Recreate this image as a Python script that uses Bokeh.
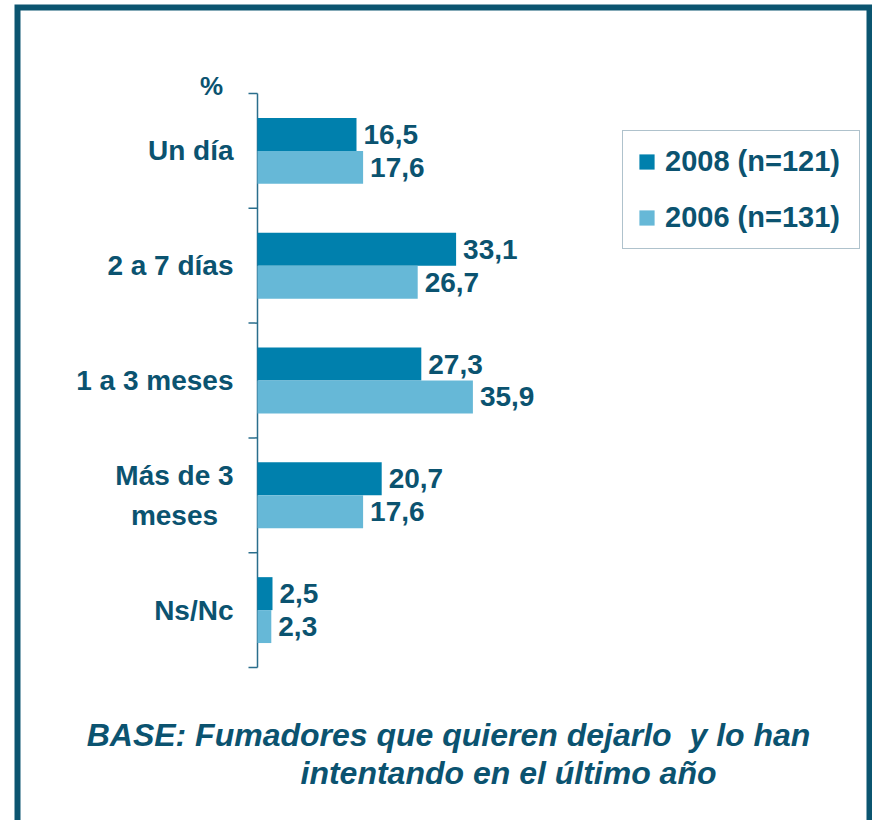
from bokeh.plotting import figure
from bokeh.models import (Range1d, Label, LabelSet, ColumnDataSource,
                          Legend, LegendItem, BoxAnnotation)
from bokeh.core.properties import value
from bokeh.embed import file_html
from bokeh.resources import INLINE

categories = ["Un día", "2 a 7 días", "1 a 3 meses", "Más de 3\nmeses", "Ns/Nc"]
values_2008 = [16.5, 33.1, 27.3, 20.7, 2.5]
values_2006 = [17.6, 26.7, 35.9, 17.6, 2.3]
series_names = ["2008 (n=121)", "2006 (n=131)"]
unit_label = "%"
caption_1 = "BASE: Fumadores que quieren dejarlo \u00a0y lo han"
caption_2 = "intentando en el último año"

TEXT = "#0B5370"
C2008 = "#0080AD"
C2006 = "#66B8D7"
AXIS = "#2A6E8C"
BORDER = "#0B5570"
FONT = "Liberation Sans"

W, H = 872, 820
# pixel layout of the chart area
PX_LEFT, PX_TOP, PX_BOTTOM = 257, 93, 667
SX = 6.0                       # pixels per percentage point
n = len(categories)
SY = (PX_BOTTOM - PX_TOP) / n  # pixels per category

def X(px):
    return (px - PX_LEFT) / SX

def Y(py):
    return (py - PX_TOP) / SY

centers = [i + 0.5 for i in range(n)]
bh = 0.287
y2008 = [c - bh / 2 for c in centers]
y2006 = [c + bh / 2 for c in centers]

def fmt(v):
    return f"{v:.1f}".replace(".", ",")

src08 = ColumnDataSource(dict(y=y2008, v=values_2008, t=[fmt(v) for v in values_2008]))
src06 = ColumnDataSource(dict(y=y2006, v=values_2006, t=[fmt(v) for v in values_2006]))

p = figure(width=W, height=H, output_backend="svg", toolbar_location=None,
           x_range=Range1d(X(0), X(W)), y_range=Range1d(Y(H), Y(0)),
           x_axis_location=None, y_axis_location=None,
           min_border=0)
p.outline_line_color = None
p.grid.visible = False
p.background_fill_color = "white"
p.border_fill_color = "white"

# category axis: line and boundary ticks
bounds = list(range(n + 1))
p.segment(x0=[0], y0=[bounds[0]], x1=[0], y1=[bounds[-1]],
          line_color=AXIS, line_width=1.5)
tick_len = 9 / SX
p.segment(x0=[-tick_len] * len(bounds), y0=bounds, x1=[0] * len(bounds), y1=bounds,
          line_color=AXIS, line_width=1.5)

r08 = p.hbar(y="y", left=0, right="v", height=bh, source=src08,
             fill_color=C2008, line_color=None)
r06 = p.hbar(y="y", left=0, right="v", height=bh, source=src06,
             fill_color=C2006, line_color=None)

for src in (src08, src06):
    p.add_layout(LabelSet(x="v", y="y", text="t", source=src, x_offset=7,
                          text_baseline="middle", text_align="left",
                          text_font=value(FONT), text_font_size=value("28px"),
                          text_font_style="bold", text_color=TEXT))

for c, name in zip(centers, categories):
    multi = "\n" in name
    p.add_layout(Label(x=X(174) if multi else X(233), y=c, text=name,
                       text_align="center" if multi else "right",
                       text_baseline="middle", text_line_height=1.3,
                       text_font=FONT, text_font_size="28px",
                       text_font_style="bold", text_color=TEXT))

p.add_layout(Label(x=X(211), y=Y(85), text=unit_label,
                   text_align="center", text_baseline="middle",
                   text_font=FONT, text_font_size="26px",
                   text_font_style="bold", text_color=TEXT))

p.add_layout(Label(x=X(448), y=Y(734), text=caption_1,
                   text_align="center", text_baseline="middle",
                   text_font=FONT, text_font_size="32px",
                   text_font_style="bold italic", text_color=TEXT))
p.add_layout(Label(x=X(508), y=Y(772), text=caption_2,
                   text_align="center", text_baseline="middle",
                   text_font=FONT, text_font_size="32px",
                   text_font_style="bold italic", text_color=TEXT))

legend = Legend(items=[LegendItem(label=series_names[0], renderers=[r08]),
                       LegendItem(label=series_names[1], renderers=[r06])],
                location=(622, H - 249), glyph_width=19, glyph_height=19,
                label_standoff=9, padding=14, spacing=23, label_width=180,
                label_text_font=FONT, label_text_font_size="29px",
                label_text_font_style="bold", label_text_color=TEXT,
                border_line_color="#5F8699", border_line_width=1.2,
                background_fill_color="white", background_fill_alpha=1.0)
p.add_layout(legend)

frame_box = BoxAnnotation(left=X(17), right=X(869), top=Y(7), bottom=Y(H + 20),
                          fill_color=None, fill_alpha=0, line_color=BORDER,
                          line_alpha=1.0, line_width=6, line_join="miter",
                          border_radius=0, level="overlay")
p.add_layout(frame_box)

open("out.html", "w").write(file_html(p, INLINE))
